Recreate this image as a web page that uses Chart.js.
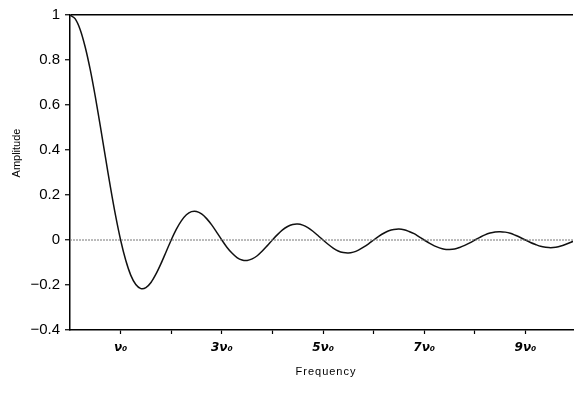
<!DOCTYPE html>
<html>
<head>
<meta charset="utf-8">
<script src="https://cdn.jsdelivr.net/npm/chart.js@4"></script>
<style>
  html, body { margin: 0; padding: 0; background: #fff; }
  #wrap { width: 574px; height: 403px; }
</style>
</head>
<body>
<div id="wrap"><canvas id="chart" width="574" height="403"></canvas></div>
<script>
// Frequency in units of nu0
const FREQ = [
  0.0, 0.1, 0.2, 0.3, 0.4, 0.5, 0.6, 0.7, 0.8, 0.9,
  1.0, 1.1, 1.2, 1.3, 1.4, 1.5, 1.6, 1.7, 1.8, 1.9,
  2.0, 2.1, 2.2, 2.3, 2.4, 2.5, 2.6, 2.7, 2.8, 2.9,
  3.0, 3.1, 3.2, 3.3, 3.4, 3.5, 3.6, 3.7, 3.8, 3.9,
  4.0, 4.1, 4.2, 4.3, 4.4, 4.5, 4.6, 4.7, 4.8, 4.9,
  5.0, 5.1, 5.2, 5.3, 5.4, 5.5, 5.6, 5.7, 5.8, 5.9,
  6.0, 6.1, 6.2, 6.3, 6.4, 6.5, 6.6, 6.7, 6.8, 6.9,
  7.0, 7.1, 7.2, 7.3, 7.4, 7.5, 7.6, 7.7, 7.8, 7.9,
  8.0, 8.1, 8.2, 8.3, 8.4, 8.5, 8.6, 8.7, 8.8, 8.9,
  9.0, 9.1, 9.2, 9.3, 9.4, 9.5, 9.6, 9.7, 9.8, 9.9,
  10.0
];

// Amplitude
const AMPLITUDE = [
  1.000, 0.984, 0.936, 0.858, 0.757, 0.637, 0.505, 0.368, 0.234, 0.109,
  0.000, -0.089, -0.156, -0.198, -0.216, -0.212, -0.189, -0.151, -0.104, -0.052,
  0.000, 0.047, 0.085, 0.112, 0.126, 0.127, 0.116, 0.095, 0.067, 0.034,
  0.000, -0.032, -0.058, -0.078, -0.089, -0.091, -0.084, -0.070, -0.049, -0.025,
  0.000, 0.024, 0.045, 0.060, 0.069, 0.071, 0.066, 0.055, 0.039, 0.020,
  0.000, -0.019, -0.036, -0.049, -0.056, -0.058, -0.054, -0.045, -0.032, -0.017,
  0.000, 0.016, 0.030, 0.041, 0.047, 0.049, 0.046, 0.038, 0.028, 0.014,
  0.000, -0.014, -0.026, -0.035, -0.041, -0.042, -0.040, -0.033, -0.024, -0.013,
  0.000, 0.012, 0.023, 0.031, 0.036, 0.037, 0.035, 0.030, 0.021, 0.011,
  0.000, -0.011, -0.020, -0.028, -0.032, -0.034, -0.032, -0.027, -0.019, -0.010,
  0.000
];

// Baseline at zero amplitude
const ZERO_X = [0, 10];
const ZERO_Y = [0, 0];

// Axis ranges and ticks
const X_MIN = 0;
const X_MAX = 9.94;
const Y_MIN = -0.4;
const Y_MAX = 1;
const Y_STEP = 0.2;
const X_LABELED = [1, 3, 5, 7, 9];

const X_TITLE = 'Frequency';
const Y_TITLE = 'Amplitude';

// Draw the axis titles where the original puts them
const titlesPlugin = {
  id: 'titles',
  afterDraw(chart) {
    const ctx = chart.ctx;
    ctx.save();
    ctx.fillStyle = '#000';
    ctx.textAlign = 'center';
    ctx.textBaseline = 'middle';

    ctx.font = '11px "Liberation Sans", Arial, sans-serif';
    ctx.letterSpacing = '1px';
    ctx.fillText(X_TITLE, 326, 372);

    ctx.letterSpacing = '0px';
    ctx.translate(17, 153);
    ctx.rotate(-Math.PI / 2);
    ctx.fillText(Y_TITLE, 0, 0);
    ctx.restore();
  }
};

const ctx = document.getElementById('chart').getContext('2d');
new Chart(ctx, {
  type: 'line',
  data: {
    datasets: [
      {
        label: 'zero',
        data: ZERO_X.map((x, i) => ({ x, y: ZERO_Y[i] })),
        borderColor: '#777',
        borderWidth: 1,
        borderDash: [2, 1],
        pointRadius: 0,
        fill: false
      },
      {
        label: 'amplitude',
        data: FREQ.map((x, i) => ({ x, y: AMPLITUDE[i] })),
        borderColor: '#111',
        borderWidth: 1.5,
        pointRadius: 0,
        tension: 0.3,
        fill: false
      }
    ]
  },
  options: {
    responsive: false,
    animation: false,
    layout: { padding: { top: 15, right: 1, left: 0, bottom: 0 } },
    plugins: {
      legend: { display: false },
      tooltip: { enabled: false }
    },
    scales: {
      x: {
        type: 'linear',
        min: X_MIN,
        max: X_MAX,
        afterFit(scale) { scale.height = 73; },
        afterBuildTicks(scale) {
          const ticks = [];
          for (let v = 1; v <= 9; v++) ticks.push({ value: v });
          scale.ticks = ticks;
        },
        border: { display: true, color: '#000', width: 1.5 },
        grid: {
          drawOnChartArea: false,
          drawTicks: true,
          tickLength: 4,
          tickColor: '#000',
          tickWidth: 1.2
        },
        ticks: {
          autoSkip: false,
          maxRotation: 0,
          padding: 7,
          color: '#000',
          font: { family: '"DejaVu Sans", sans-serif', size: 12, style: 'italic', weight: 'bold' },
          callback: (v) => {
            if (!X_LABELED.includes(v)) return '';
            return (v === 1 ? '' : String(v)) + 'ν₀';
          }
        }
      },
      y: {
        min: Y_MIN,
        max: Y_MAX,
        afterFit(scale) { scale.width = 70; },
        border: { display: true, color: '#000', width: 1.5 },
        grid: {
          drawTicks: true,
          tickLength: 5,
          tickColor: '#000',
          tickWidth: 1.2,
          lineWidth: 1.5,
          color: (c) => (c.tick && Math.abs(c.tick.value - Y_MAX) < 1e-6 ? '#000' : 'rgba(0,0,0,0)')
        },
        ticks: {
          stepSize: Y_STEP,
          padding: 5,
          color: '#000',
          font: { family: '"Liberation Sans", Arial, sans-serif', size: 15 },
          callback: (v) => {
            const r = Math.round(v * 10) / 10;
            if (r === 0 || r === 1) return String(r);
            return (r < 0 ? '\u2212' : '') + Math.abs(r).toFixed(1);
          }
        }
      }
    }
  },
  plugins: [titlesPlugin]
});
</script>
</body>
</html>
